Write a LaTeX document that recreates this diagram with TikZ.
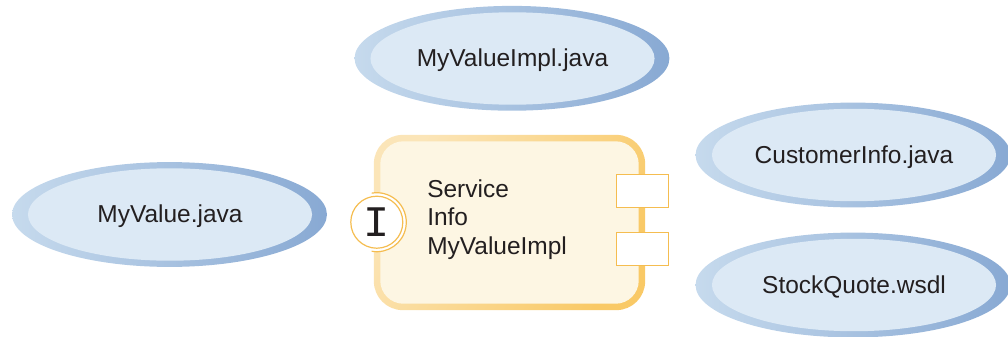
\documentclass[tikz,border=0pt]{standalone}
\usepackage{fontspec}
\setmainfont{Liberation Sans}
\usetikzlibrary{shapes,positioning}

\definecolor{rimlight}{HTML}{C6DAED}
\definecolor{rimdark}{HTML}{88A9D3}
\definecolor{bubblefill}{HTML}{DCE9F5}
\definecolor{boxlight}{HTML}{FBE5B8}
\definecolor{boxdark}{HTML}{F9C966}
\definecolor{boxfill}{HTML}{FDF6E3}
\definecolor{portline}{HTML}{F5BD50}
\definecolor{inktext}{HTML}{231F20}

\tikzset{
    filerim/.style={ellipse,inner sep=0,minimum width=7.87cm,minimum height=2.62cm,
        left color=rimlight,right color=rimdark},
    filebubble/.style={ellipse,inner sep=0,minimum width=7.1cm,minimum height=2.31cm,
        fill=bubblefill,text=inktext,font=\fontsize{17.4}{20}\selectfont,
        text height=14.2pt,text depth=2.6pt},
    portbox/.style={rectangle,draw=portline,line width=.85pt,fill=white,inner sep=0,
        minimum width=1.3cm,minimum height=.82cm}
}

\begin{document}
\begin{tikzpicture}[x=.025cm,y=-.025cm]
    \useasboundingbox (0,0) rectangle (1008,336);

    % source files
    \node[filerim] (implrim) at (512,58.3) {};
    \node[filebubble] (impl) at (512.5,58.5) {MyValueImpl.java};

    \node[filerim] (valuerim) at (169.5,214.5) {};
    \node[filebubble] (value) at (170,214.5) {MyValue.java};

    \node[filerim] (inforim) at (853,155) {};
    \node[filebubble] (info) at (854,155) {CustomerInfo.java};

    \node[filerim] (quoterim) at (853,285) {};
    \node[filebubble] (quote) at (854,285) {StockQuote.wsdl};

    % component
    \node[rectangle,rounded corners=.72cm,minimum width=6.78cm,minimum height=4.38cm,
        left color=boxlight,right color=boxdark,shading angle=60] (comp) at (509.5,222.5) {};
    \node[rectangle,rounded corners=.58cm,fill=boxfill,minimum width=6.46cm,minimum height=4.06cm]
        (compin) at (comp.center) {};

    \node[anchor=west,align=left,inner sep=0,text=inktext,
        font=\fontsize{17.4}{20.1}\selectfont] (complabel) at (427,219.5)
        {Service\\Info\\MyValueImpl};

    % references
    \node[portbox] (portinfo) at (642.5,190.8) {};
    \node[portbox] (portquote) at (642.5,249.2) {};

    % interface
    \coordinate (ifacemid) at (376.8,222.2);
    \draw[draw=portline,line width=.85pt,fill=white] (ifacemid) ++(100:29.5) arc (100:-100:29.5);
    \node[circle,draw=portline,line width=.85pt,fill=white,inner sep=0,minimum size=1.3cm,
        text=inktext,font=\fontsize{31}{31}\fontspec{Liberation Mono}] (iface) at (ifacemid) {I};
\end{tikzpicture}
\end{document}
